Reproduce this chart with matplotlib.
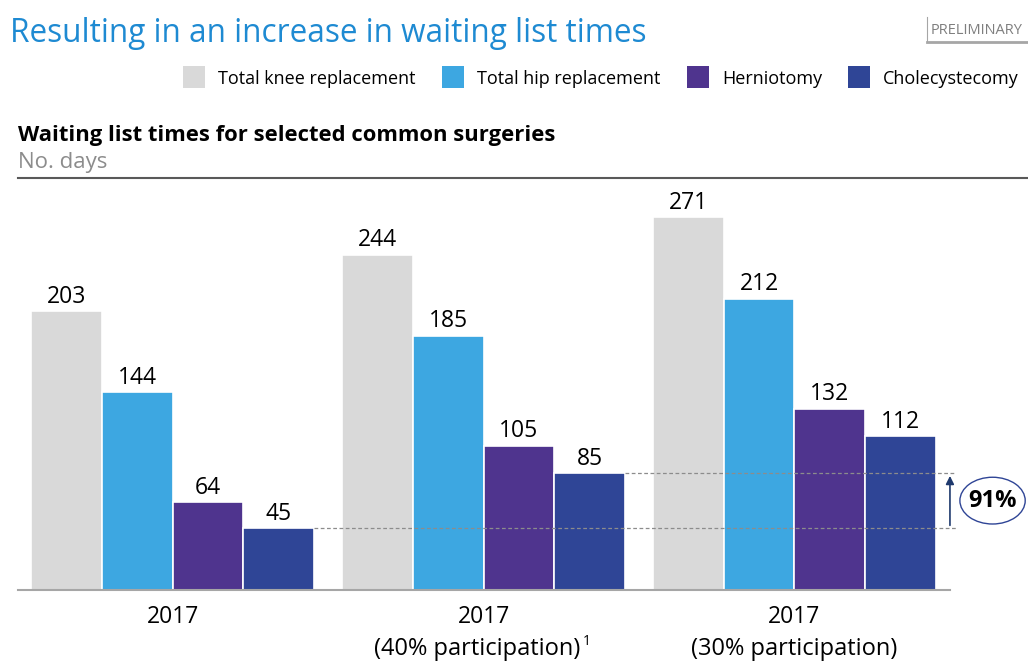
import matplotlib
matplotlib.use('Agg')
import matplotlib.pyplot as plt
import numpy as np
from matplotlib.lines import Line2D
from matplotlib.patches import Ellipse, Rectangle

plt.rcParams['font.family'] = ['Open Sans', 'DejaVu Sans']

# data
groups = ['2017', '2017', '2017']
group_notes = ['', '(40% participation)', '(30% participation)']
note_marks = ['', '1', '']
series = ['Total knee replacement', 'Total hip replacement', 'Herniotomy', 'Cholecystecomy']
knee = [203, 244, 271]
hip = [144, 185, 212]
hernia = [64, 105, 132]
chole = [45, 85, 112]
change_label = '91%'
colors = ['#D9D9D9', '#3DA7E1', '#4F348E', '#2F4596']

W, H = 1028, 661
fig = plt.figure(figsize=(W / 100, H / 100), dpi=100)


def px(x, y):
    # pixel (from top-left) -> figure fraction
    return x / W, 1 - y / H


# axes covers x 18..1028 px, y 590..178 px
ax = fig.add_axes([18 / W, (H - 590) / H, (W - 18) / W, (590 - 178) / H])
ax.set_xlim(-0.497, 2.751)
ax.set_ylim(0, 412 / 1.375)
ax.axis('off')

x = np.arange(len(groups))
bw = 0.2275
all_vals = [knee, hip, hernia, chole]
for i, vals in enumerate(all_vals):
    pos = x + (i - 1.5) * bw
    ax.bar(pos, vals, width=bw, color=colors[i], edgecolor='white', linewidth=1.2)
    for p, v in zip(pos, vals):
        ax.annotate(str(v), (p, v), xytext=(0, 6), textcoords='offset points',
                    ha='center', va='baseline', fontsize=16.5, color='black')

# baseline
ax.plot([-0.497, 2.5], [0, 0], color='#A6A6A6', lw=1.5, clip_on=False)

# dashed reference lines and arrow
x_end = 2.52
ax.plot([x[1] + 2 * bw, x_end], [chole[1], chole[1]], ls=(0, (3, 2)), color='#8C8C8C', lw=0.9)
ax.plot([x[0] + 2 * bw, x_end], [chole[0], chole[0]], ls=(0, (3, 2)), color='#8C8C8C', lw=0.9)
ax.annotate('', xy=(2.5, chole[1]), xytext=(2.5, chole[0]),
            arrowprops=dict(arrowstyle='-|>', color='#1F3A6E', lw=1.2, mutation_scale=12))
ymid = (chole[0] + chole[1]) / 2
ax.add_patch(Ellipse((2.637, ymid), width=0.21, height=34,
                     facecolor='white', edgecolor='#2F4596', lw=1.0, clip_on=False))
ax.text(2.637, ymid, change_label, ha='center', va='center',
        fontsize=17, fontweight='bold', color='black')

# category labels
fig.canvas.draw()
renderer = fig.canvas.get_renderer()
for xi, g, n, m in zip(x, groups, group_notes, note_marks):
    xpix = ax.transData.transform((xi, 0))[0]
    fig.text(xpix / W, px(0, 623)[1], g, ha='center', va='baseline', fontsize=16.5)
    if n:
        t = fig.text(xpix / W, px(0, 655)[1], n, ha='center', va='baseline', fontsize=17)
        if m:
            bb = t.get_window_extent(renderer)
            shift = 6
            t.set_x((xpix - shift) / W)
            fig.text((bb.x1 - shift + 2) / W, px(0, 645)[1], m, fontsize=10, va='baseline')

# title and header
fig.text(*px(10, 42), 'Resulting in an increase in waiting list times', fontsize=22.7,
         color='#1E8AD2', va='baseline')
fig.text(*px(931, 34), 'PRELIMINARY', fontsize=10.5, color='#7F7F7F', va='baseline')
fig.add_artist(Line2D([927 / W, 927 / W], [px(0, 17)[1], px(0, 42)[1]], color='#A6A6A6', lw=0.8))
fig.add_artist(Line2D([927 / W, 1.0], [px(0, 42)[1], px(0, 42)[1]], color='#A6A6A6', lw=2))

# legend
leg_x = [183, 442, 687, 848]
for lx, s, c in zip(leg_x, series, colors):
    fig.add_artist(Rectangle(px(lx, 88), 22 / W, 22 / H, facecolor=c, edgecolor='none'))
    fig.text(*px(lx + 35, 84), s, fontsize=13, va='baseline')

fig.text(*px(18, 141), 'Waiting list times for selected common surgeries', fontsize=15.8,
         fontweight='bold', va='baseline')
fig.text(*px(18, 168), 'No. days', fontsize=16, color='#8C8C8C', va='baseline')
fig.add_artist(Line2D([18 / W, 1.0], [px(0, 178)[1]] * 2, color='#595959', lw=1.5))

fig.savefig('out.png', dpi=100)
